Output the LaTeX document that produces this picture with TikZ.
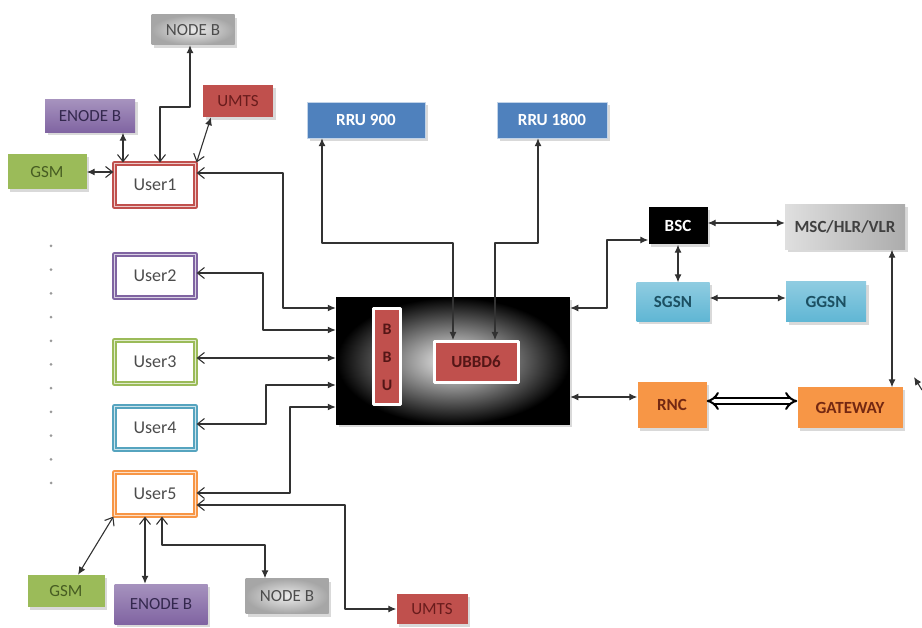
\documentclass[tikz,border=0pt]{standalone}
\usepackage{fontspec}
\setmainfont{Carlito}
\usepackage{tikz}
\usetikzlibrary{arrows.meta,shadows}
\definecolor{gsmgreen}{RGB}{155,187,89}
\definecolor{gsmtext}{RGB}{70,92,34}
\definecolor{enbpurple}{RGB}{128,100,162}
\definecolor{enbtext}{RGB}{52,40,78}
\definecolor{umtsred}{RGB}{192,80,77}
\definecolor{umtstext}{RGB}{105,28,28}
\definecolor{rrublue}{RGB}{79,129,189}
\definecolor{sgsnblue}{RGB}{95,182,212}
\definecolor{sgsntext}{RGB}{28,80,98}
\definecolor{rncorange}{RGB}{247,150,70}
\definecolor{rnctext}{RGB}{115,40,18}
\definecolor{linegray}{RGB}{50,50,50}

\begin{document}
\begin{tikzpicture}[x=1pt,y=-1pt,line join=round,
  box/.style={rectangle,inner sep=0pt,font=\fontsize{17}{20}\selectfont,
    drop shadow={shadow xshift=2.5pt,shadow yshift=-3pt,opacity=0.3}},
  bold/.style={box,font=\fontsize{17}{20}\selectfont\bfseries},
  user/.style={rectangle,fill=white,draw=#1,line width=2.2pt,double=#1!30,double distance=1.5pt,
    minimum width=81pt,minimum height=43pt,font=\fontsize{18}{21}\selectfont,text=black!70},
  link/.style={draw=linegray,line width=1.1pt},
  both/.style={link,{Latex[length=8pt,width=7pt]}-{Latex[length=8pt,width=7pt]}},
  half/.style={link,{Latex[length=8pt,width=7pt]}-{Straight Barb[length=7pt,width=11pt]}}]
  \useasboundingbox (0,0) rectangle (922,628);
  % access side: users and their radios
  \node[box,minimum width=83pt,minimum height=30pt,inner color=gray!15,outer color=gray!70,text=black!70] (nbt) at (193,30) {NODE B};
  \node[box,minimum width=90pt,minimum height=33pt,top color=enbpurple!70,bottom color=enbpurple,text=enbtext] (enbt) at (90,116) {ENODE B};
  \node[box,minimum width=70pt,minimum height=32pt,fill=umtsred,text=umtstext] (umt) at (238,101) {UMTS};
  \node[box,minimum width=79pt,minimum height=35pt,fill=gsmgreen,text=gsmtext] (gsmt) at (47,172) {GSM};
  \node[user=umtsred] (u1) at (155,185) {User1};
  \node[user=enbpurple] (u2) at (155,276) {User2};
  \node[user=gsmgreen] (u3) at (155,362) {User3};
  \node[user=sgsnblue!90!black] (u4) at (155,428) {User4};
  \node[user=rncorange] (u5) at (155,494) {User5};
  \node[box,minimum width=77pt,minimum height=32pt,fill=gsmgreen,text=gsmtext] (gsmb) at (66,591) {GSM};
  \node[box,minimum width=93pt,minimum height=40pt,top color=enbpurple!70,bottom color=enbpurple,text=enbtext] (enbb) at (161,604) {ENODE B};
  \node[box,minimum width=83pt,minimum height=35pt,inner color=gray!15,outer color=gray!70,text=black!70] (nbb) at (287,596) {NODE B};
  \node[box,minimum width=71pt,minimum height=30pt,fill=umtsred,text=umtstext] (umb) at (432,609) {UMTS};
  \foreach \k in {0,...,10}{\fill[gray!80] (51,246+23.7*\k) circle (1.5pt);}
  % baseband unit and radio units
  \node[bold,minimum width=118pt,minimum height=36pt,fill=rrublue,draw=rrublue!35,text=white] (rru9) at (366,120) {RRU 900};
  \node[bold,minimum width=110pt,minimum height=36pt,fill=rrublue,draw=rrublue!35,text=white] (rru18) at (552,120) {RRU 1800};
  \node[box,minimum width=233pt,minimum height=127pt,draw=black,line width=1.5pt,inner color=gray!10,outer color=black] (box) at (453,361) {};
  \node[rectangle,fill=umtsred,draw=white,line width=3pt,minimum width=27pt,minimum height=96pt,align=center,
    font=\fontsize{16}{28}\selectfont\bfseries,text=umtstext!80!black] (bbu) at (387,357) {B\\B\\U};
  \node[rectangle,fill=umtsred,draw=white,line width=3pt,minimum width=84pt,minimum height=41pt,
    font=\fontsize{17}{20}\selectfont\bfseries,text=umtstext!80!black] (ubb) at (476,362) {UBBD6};
  % core network
  \node[bold,minimum width=59pt,minimum height=37pt,fill=black,text=white] (bsc) at (678,226) {BSC};
  \node[bold,minimum width=120pt,minimum height=45pt,left color=gray!25,right color=gray!65,text=black!75] (msc) at (845,227) {MSC/HLR/VLR};
  \node[bold,minimum width=73pt,minimum height=39pt,top color=sgsnblue!70,bottom color=sgsnblue,text=sgsntext] (sgsn) at (673,302) {SGSN};
  \node[bold,minimum width=80pt,minimum height=40pt,top color=sgsnblue!70,bottom color=sgsnblue,text=sgsntext] (ggsn) at (826,302) {GGSN};
  \node[bold,minimum width=69pt,minimum height=46pt,fill=rncorange,text=rnctext] (rnc) at (672,405) {RNC};
  \node[bold,minimum width=105pt,minimum height=41pt,fill=rncorange,text=rnctext] (gw) at (850,408) {GATEWAY};
  % user 1 radios
  \draw[half] (gsmt.east) -- (u1.west |- gsmt.east);
  \draw[half] (enbt.south -| 123,0) -- (u1.north -| 123,0);
  \draw[half] (nbt.south -| 190,0) -- (190,107) -| (u1.north -| 160,0);
  \draw[half] (umt.south -| 211,0) -- (u1.north east);
  % users to the BBU
  \draw[half] (box.west |- 0,308) -| (283,173) -- ([yshift=12pt]u1.east);
  \draw[half] (box.west |- 0,330) -| (263,273) -- ([yshift=3pt]u2.east);
  \draw[half] (box.west |- 0,358) -- ([yshift=4pt]u3.east);
  \draw[half] (box.west |- 0,385) -| (266,424) -- ([yshift=4pt]u4.east);
  \draw[half] (box.west |- 0,407) -| (290,493) -- ([yshift=1pt]u5.east);
  % user 5 radios
  \draw[half] (umb.west) -| (345,505) -- ([yshift=-11pt]u5.east);
  \draw[half] (gsmb.north -| 78,0) -- (u5.south west);
  \draw[half] (enbb.north -| 145,0) -- (u5.south -| 145,0);
  \draw[half] (nbb.north -| 265,0) |- (162,545) -- (u5.south -| 162,0);
  % RRUs to UBBD6
  \draw[both] (rru9.south -| 322,0) |- (453,243) -- (ubb.north -| 453,0);
  \draw[both] (rru18.south -| 538,0) |- (495,243) -- (ubb.north -| 495,0);
  % core links
  \draw[both] (box.east |- 0,308) -| (607,240) -- (bsc.west |- 0,240);
  \draw[both] (box.east |- 0,397) -- (rnc.west |- 0,397);
  \draw[both] (bsc.east |- 0,223) -- (msc.west |- 0,223);
  \draw[both] (bsc.south -| 678,0) -- (sgsn.north -| 678,0);
  \draw[both] (sgsn.east |- 0,298) -- (ggsn.west |- 0,298);
  \draw[both] (msc.south -| 892,0) -- (gw.north -| 892,0);
  \draw[draw=black,line width=2pt,double=white,double distance=4pt,{Implies}-{Implies}] (rnc.east |- 0,401) -- (gw.west |- 0,401);
  \coordinate (stub) at (922,390);
  \draw[link,-{Latex[length=8pt,width=7pt]}] (stub) -- (914,377);
\end{tikzpicture}
\end{document}
